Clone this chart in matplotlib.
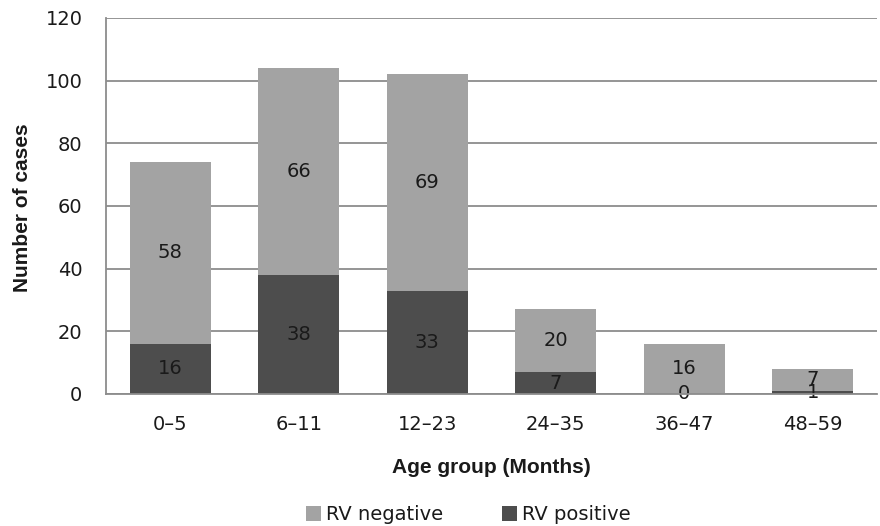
import numpy as np
import matplotlib
matplotlib.use("Agg")
import matplotlib.pyplot as plt

age_groups = ["0\u20135", "6\u201311", "12\u201323", "24\u201335", "36\u201347", "48\u201359"]
rv_positive = [16, 38, 33, 7, 0, 1]
rv_negative = [58, 66, 69, 20, 16, 7]

light = "#a3a3a3"
dark = "#4d4d4d"
grid_col = "#8c8c8c"
txt = "#1a1a1a"

plt.rcParams['font.family'] = ['DejaVu Sans']

fig = plt.figure(figsize=(8.8, 5.26), dpi=100)
ax = fig.add_axes([0.1205, 0.251, 0.8761, 0.7148])

x = np.arange(len(age_groups))
w = 0.63
b1 = ax.bar(x, rv_positive, w, color=dark, label="RV positive", zorder=3)
b2 = ax.bar(x, rv_negative, w, bottom=rv_positive, color=light, label="RV negative", zorder=3)

ax.bar_label(b1, label_type="center", fontsize=14, color=txt)
ax.bar_label(b2, label_type="center", fontsize=14, color=txt)

ax.set_xlim(-0.5, len(age_groups) - 0.5)
ax.set_ylim(0, 120)
ax.set_yticks(range(0, 121, 20))
ax.set_xticks(x)
ax.set_xticklabels(age_groups)
ax.tick_params(axis="both", length=0, labelsize=14, colors=txt)
ax.tick_params(axis="x", pad=15)
ax.tick_params(axis="y", pad=17)

ax.yaxis.grid(True, color=grid_col, linewidth=1.3, zorder=0)
ax.set_axisbelow(True)
for side in ["top", "right"]:
    ax.spines[side].set_visible(False)
for side in ["left", "bottom"]:
    ax.spines[side].set_color(grid_col)
    ax.spines[side].set_linewidth(1.3)
    ax.spines[side].set_zorder(4)

fig.text(0.558, 0.112, "Age group (Months)", fontsize=15, fontweight="bold",
         family="Liberation Sans", color=txt, ha="center", va="center")
fig.text(0.025, 0.606, "Number of cases", fontsize=15, fontweight="bold",
         family="Liberation Sans", color=txt, ha="center", va="center",
         rotation=90)

handles = [b2, b1]
fig.legend(handles, ["RV negative", "RV positive"], loc="center",
           bbox_to_anchor=(0.532, 0.021), ncol=2, frameon=False,
           fontsize=14, handlelength=0.78, handleheight=0.78,
           handletextpad=0.25, columnspacing=3.0, labelcolor=txt)

fig.savefig("out.png", dpi=100)
